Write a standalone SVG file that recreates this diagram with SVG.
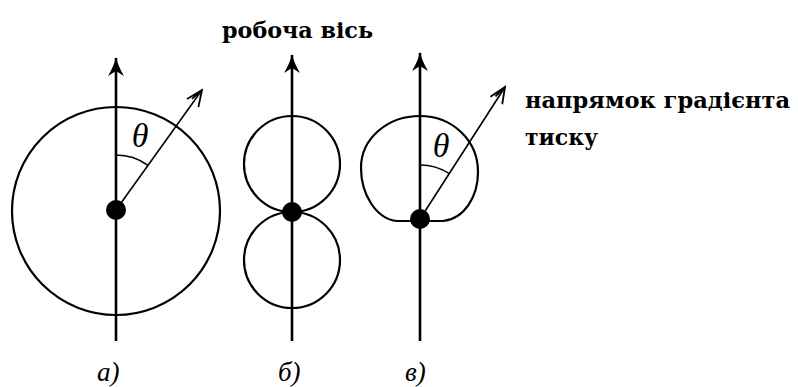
<svg xmlns="http://www.w3.org/2000/svg" width="798" height="387" viewBox="0 0 798 387">
<defs>
<style>
.axis{stroke:#000;stroke-width:2.6;fill:none}
.curve{stroke:#000;stroke-width:2.2;fill:none}
.grad{stroke:#000;stroke-width:1.6;fill:none}
.arc{stroke:#000;stroke-width:1.6;fill:none}
.dot{fill:#000}
</style>
<marker id="axhead" markerUnits="userSpaceOnUse" markerWidth="24" markerHeight="24" viewBox="-22 -12 24 24" refX="0" refY="0" orient="auto">
<path d="M1,0 Q-8,-2 -18,-8 L-13,0 L-18,8 Q-8,2 1,0 Z" fill="#000"/>
</marker>
<marker id="vhead" markerUnits="userSpaceOnUse" markerWidth="22" markerHeight="22" viewBox="-20 -11 22 22" refX="0" refY="0" orient="auto">
<path d="M-16,-7 L0,0 L-16,7 M-13,-3 L0,0" stroke="#000" stroke-width="1.8" fill="none"/>
</marker>
</defs>

<g id="diagram-a">
<circle class="curve" cx="116" cy="211" r="104"/>
<line class="axis" x1="116" y1="341" x2="116" y2="58" marker-end="url(#axhead)"/>
<line class="grad" x1="116" y1="210" x2="202" y2="90" marker-end="url(#vhead)"/>
<path class="arc" d="M116,155 A55,55 0 0,1 148,165.3"/>
<text x="140" y="147" text-anchor="middle" font-family="'Liberation Serif', 'DejaVu Serif', serif" font-style="italic" font-size="34">θ</text>
<circle class="dot" cx="116" cy="210" r="10"/>
<text x="97" y="381" font-family="'Liberation Serif', 'DejaVu Serif', serif" font-style="italic" font-size="27">а)</text>
</g>

<g id="diagram-b">
<circle class="curve" cx="292" cy="164" r="48"/>
<circle class="curve" cx="292" cy="260" r="48"/>
<line class="axis" x1="292" y1="341" x2="292" y2="55" marker-end="url(#axhead)"/>
<circle class="dot" cx="292" cy="212" r="10"/>
<text x="278" y="381" font-family="'Liberation Serif', 'DejaVu Serif', serif" font-style="italic" font-size="27">б)</text>
</g>

<g id="diagram-c">
<path class="curve" d="M420,221 L443,221 C464,219 478,197 478,172 C478,140 452,116 420,116 C388,116 361,138 361,168 C361,194 376,219 397,221 L420,221"/>
<line class="axis" x1="420" y1="341" x2="420" y2="53" marker-end="url(#axhead)"/>
<line class="grad" x1="420" y1="219" x2="505" y2="87" marker-end="url(#vhead)"/>
<path class="arc" d="M420,165 A54,54 0 0,1 449.3,173.6"/>
<text x="441" y="157" text-anchor="middle" font-family="'Liberation Serif', 'DejaVu Serif', serif" font-style="italic" font-size="34">θ</text>
<circle class="dot" cx="420" cy="219" r="10"/>
<text x="405" y="381" font-family="'Liberation Serif', 'DejaVu Serif', serif" font-style="italic" font-size="27">в)</text>
</g>

<g id="labels" font-family="'DejaVu Serif', 'Liberation Serif', serif" font-weight="bold" font-size="22">
<text x="222" y="38" textLength="151" lengthAdjust="spacingAndGlyphs">робоча вісь</text>
<text x="525" y="108" textLength="265" lengthAdjust="spacingAndGlyphs">напрямок градієнта</text>
<text x="525" y="145" textLength="73" lengthAdjust="spacingAndGlyphs">тиску</text>
</g>
</svg>
